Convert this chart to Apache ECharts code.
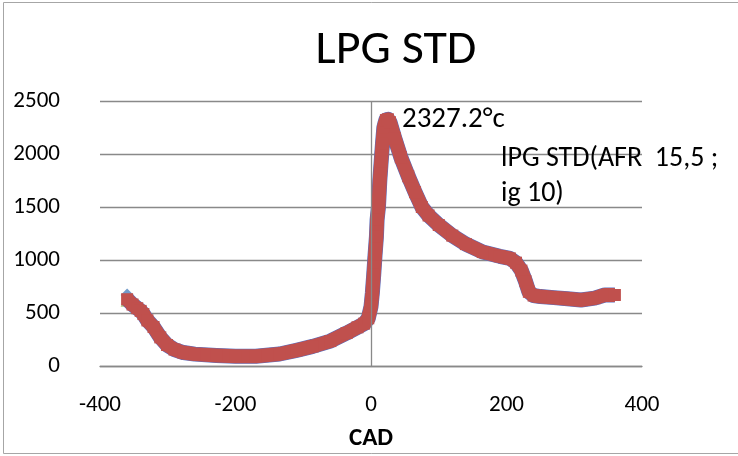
<!DOCTYPE html>
<html>
<head>
<meta charset="utf-8">
<script src="https://cdn.jsdelivr.net/npm/echarts@6/dist/echarts.min.js"></script>
<style>
html,body{margin:0;padding:0;background:#fff;}
#chart{width:738px;height:456px;}
</style>
</head>
<body>
<div id="chart"></div>
<script>
// ---- data ----
const chartTitle = 'LPG STD';
const seriesName = 'lPG STD(AFR  15,5 ;\nig 10)';
const xAxisName = 'CAD';
const xTicks = [-400, -200, 0, 200, 400];
const yTicks = [0, 500, 1000, 1500, 2000, 2500];
const cad = [-360,-352,-345,-340,-336,-330,-321,-311,-301,-290,-277,-260,-228,-200,-170,-135,-110,-86,-60,-36,-20,-10,-4,0,2,4,6,8,9,11,13,15,17,19,22,25,28,35,44,55,65,75,85,100,120,140,165,190,205,214,222,228,233,240,250,270,290,310,330,345,360];
const temp = [630,580,545,520,490,430,368,270,198,155,127,112,100,92,92,113,148,185,235,311,365,400,450,560,690,860,1050,1220,1380,1500,1750,1930,2100,2250,2320,2327.2,2300,2150,1970,1790,1640,1500,1420,1330,1230,1150,1075,1035,1015,975,900,800,700,665,655,645,635,623,640,670,670];
const blueStart = 670;   // first point of the blue (diamond) series
const greenStart = 620;  // first point of the green (triangle) series

const FONT = 'Carlito, Lato, sans-serif';
const RED = '#C0504D', BLUE = '#5a6fc0', BLUE_MK = '#4F81BD', GREEN = '#9BBB59', GRID = '#898989';

const peakIdx = temp.indexOf(Math.max(...temp));
const redData = cad.map((c, i) => i === peakIdx ? {
  value: [c, temp[i]],
  label: {
    show: true, position: 'right', distance: 8,
    formatter: p => p.value[1].toFixed(1) + '°c',
    fontFamily: FONT, fontSize: 29, color: '#000'
  }
} : [c, temp[i]]);
const lineData = cad.map((c, i) => [c, temp[i]]);

const chart = echarts.init(document.getElementById('chart'), null, {renderer: 'canvas'});
chart.setOption({
  animation: false,
  backgroundColor: '#fff',
  title: {
    text: chartTitle, left: 391, top: 22, textAlign: 'center',
    textStyle: {fontFamily: FONT, fontSize: 48, fontWeight: 'normal', color: '#000'}
  },
  legend: {
    data: [seriesName], left: 490, top: 136, itemWidth: 0, itemHeight: 0, itemGap: 0,
    selectedMode: false,
    textStyle: {fontFamily: FONT, fontSize: 28, color: '#000', lineHeight: 35}
  },
  grid: {left: 100, right: 96, top: 101, bottom: 90},
  xAxis: {
    type: 'value', min: xTicks[0], max: xTicks[xTicks.length - 1], interval: 200,
    name: xAxisName, nameLocation: 'middle', nameGap: 60,
    nameTextStyle: {fontFamily: FONT, fontSize: 25, fontWeight: 'bold', color: '#000'},
    axisLine: {show: true, lineStyle: {color: GRID, width: 1.3}},
    axisTick: {show: false},
    splitLine: {show: false},
    axisLabel: {fontFamily: FONT, fontSize: 23, color: '#000', margin: 28}
  },
  yAxis: {
    type: 'value', min: yTicks[0], max: yTicks[yTicks.length - 1], interval: 500,
    axisLine: {show: false}, axisTick: {show: false},
    splitLine: {show: true, lineStyle: {color: GRID, width: 1.3}},
    axisLabel: {fontFamily: FONT, fontSize: 23, color: '#000', margin: 40,
      formatter: v => String(v)}
  },
  graphic: [{
    type: 'rect', silent: true, z: -10,
    shape: {x: 3.5, y: 2.5, width: 760, height: 451},
    style: {fill: 'none', stroke: '#a6a6a6', lineWidth: 1}
  }],
  series: [
    {
      name: 'outline', type: 'line', data: lineData, showSymbol: false,
      lineStyle: {color: BLUE, width: 15, join: 'round'},
      silent: true,
      markLine: {
        silent: true, symbol: 'none', label: {show: false},
        lineStyle: {color: GRID, type: 'solid', width: 1.3},
        data: [{xAxis: 0}]
      }
    },
    {
      name: 'blueStart', type: 'scatter', symbol: 'diamond', symbolSize: 13,
      data: [[cad[0], blueStart]], itemStyle: {color: BLUE_MK}, silent: true
    },
    {
      name: 'greenStart', type: 'scatter', symbol: 'triangle', symbolSize: 13,
      data: [[cad[0], greenStart]], itemStyle: {color: GREEN}, silent: true
    },
    {
      name: seriesName, type: 'line', data: redData,
      symbol: 'rect', symbolSize: 12, showSymbol: true, showAllSymbol: true,
      itemStyle: {color: RED},
      lineStyle: {color: RED, width: 14, join: 'round'},
      labelLayout: {hideOverlap: false}
    }
  ]
});
</script>
</body>
</html>
